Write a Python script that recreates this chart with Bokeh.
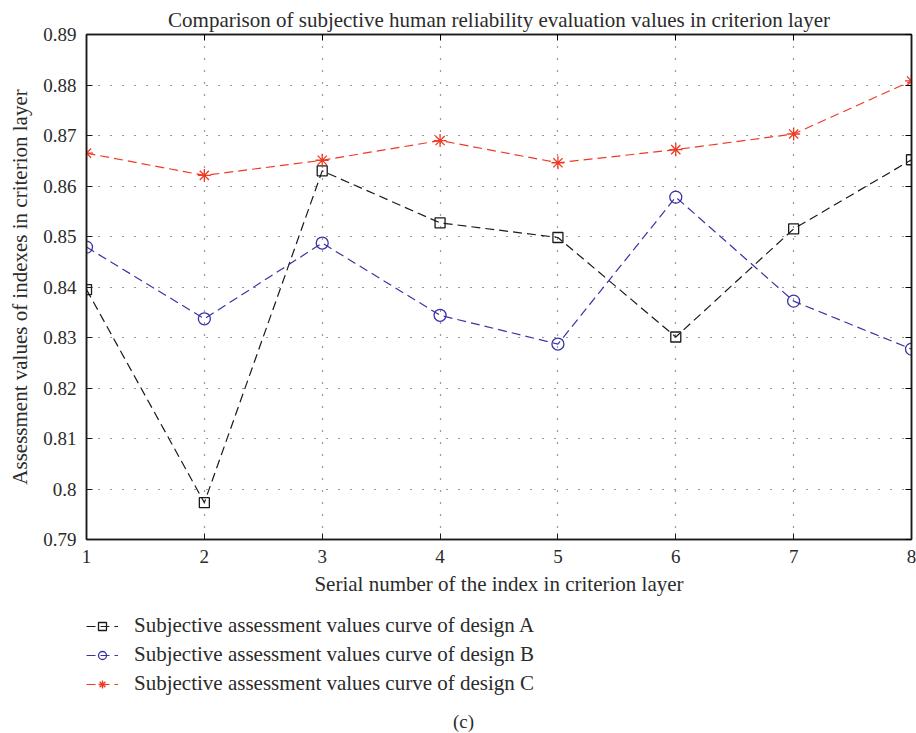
from bokeh.plotting import figure
from bokeh.layouts import column
from bokeh.models import (FixedTicker, LinearAxis, Legend, LegendItem, Label, Range1d,
                          CustomJSTickFormatter)
from bokeh.embed import file_html
from bokeh.resources import INLINE

x_index = [1, 2, 3, 4, 5, 6, 7, 8]
design_a = [0.8395, 0.7973, 0.8630, 0.8527, 0.8498, 0.8301, 0.8515, 0.8652]
design_b = [0.8479, 0.8337, 0.8487, 0.8344, 0.8287, 0.8578, 0.8372, 0.8277]
design_c = [0.8665, 0.8621, 0.8651, 0.8690, 0.8646, 0.8672, 0.8703, 0.8808]
y_ticks = [0.79, 0.80, 0.81, 0.82, 0.83, 0.84, 0.85, 0.86, 0.87, 0.88, 0.89]
y_tick_labels = ["0.79", "0.8", "0.81", "0.82", "0.83", "0.84", "0.85", "0.86", "0.87", "0.88", "0.89"]
x_ticks = [1, 2, 3, 4, 5, 6, 7, 8]

title_text = "Comparison of subjective human reliability evaluation values in criterion layer"
x_label = "Serial number of the index in criterion layer"
y_label = "Assessment values of indexes in criterion layer"
legend_labels = ["Subjective assessment values curve of design A",
                 "Subjective assessment values curve of design B",
                 "Subjective assessment values curve of design C"]
caption = "(c)"

FONT = "Liberation Serif"
TXT = "#2b2b2b"
BLACK = "#1a1a1a"
BLUE = "#3a34a6"
RED = "#ee3a24"
DASH = "9 5"

p = figure(width=916, height=600, output_backend="svg", toolbar_location=None,
           x_range=Range1d(1, 8), y_range=Range1d(0.79, 0.89),
           min_border_left=86, min_border_right=5, min_border_top=34, min_border_bottom=61)

p.title.text = title_text
p.title.align = "center"
p.title.text_font = FONT
p.title.text_font_size = "21px"
p.title.text_font_style = "normal"
p.title.text_color = TXT
p.title.standoff = 6

p.outline_line_color = BLACK
p.outline_line_width = 1.5
p.outline_line_alpha = 1

for ax in (p.xaxis[0], p.yaxis[0]):
    ax.major_tick_in = 6
    ax.major_tick_out = 0
    ax.minor_tick_line_color = None
    ax.axis_line_color = BLACK
    ax.axis_line_width = 1.5
    ax.major_tick_line_color = BLACK
    ax.major_label_text_font = FONT
    ax.major_label_text_font_size = "19px"
    ax.major_label_text_color = TXT
    ax.axis_label_text_font = FONT
    ax.axis_label_text_font_size = "21px"
    ax.axis_label_text_font_style = "normal"
    ax.axis_label_text_color = TXT
    ax.major_label_standoff = 10

p.xaxis[0].ticker = FixedTicker(ticks=x_ticks)
p.yaxis[0].ticker = FixedTicker(ticks=y_ticks)
p.yaxis[0].major_label_overrides = {t: s for t, s in zip(y_ticks, y_tick_labels)}
p.xaxis[0].axis_label = x_label
p.yaxis[0].axis_label = y_label
p.xaxis[0].axis_label_standoff = 6
p.yaxis[0].axis_label_standoff = 8

for loc, tk in (("right", y_ticks), ("above", x_ticks)):
    ax = LinearAxis(ticker=FixedTicker(ticks=tk), major_tick_in=6, major_tick_out=0,
                    minor_tick_line_color=None, axis_line_color=BLACK, axis_line_width=1.5,
                    formatter=CustomJSTickFormatter(code="return ''"),
                    major_label_standoff=0)
    p.add_layout(ax, loc)

p.xgrid.ticker = FixedTicker(ticks=x_ticks)
p.ygrid.ticker = FixedTicker(ticks=y_ticks)
for g in (p.xgrid[0], p.ygrid[0]):
    g.grid_line_color = "#333333"
    g.grid_line_dash = "1 11"
    g.grid_line_width = 1.2


def draw(fig, msize=1.0):
    la = fig.line(x_index, design_a, line_color=BLACK, line_dash=DASH, line_width=1.2)
    ma = fig.scatter(x_index, design_a, marker="square", size=10 * msize, line_color=BLACK,
                     fill_color=None, line_width=1.3)
    lb = fig.line(x_index, design_b, line_color=BLUE, line_dash=DASH, line_width=1.2)
    mb = fig.scatter(x_index, design_b, marker="circle", size=12 * msize, line_color=BLUE,
                     fill_color=None, line_width=1.3)
    lc = fig.line(x_index, design_c, line_color=RED, line_dash=DASH, line_width=1.2)
    mc = fig.scatter(x_index, design_c, marker="asterisk", size=13 * msize, line_color=RED,
                     line_width=1.3)
    return [(la, ma), (lb, mb), (lc, mc)]


draw(p)

# Lower panel holding the legend and caption (same series, drawn off-range)
q = figure(width=916, height=133, output_backend="svg", toolbar_location=None,
           x_range=Range1d(100, 101), y_range=Range1d(100, 101),
           x_axis_type=None, y_axis_type=None,
           min_border_left=0, min_border_right=0, min_border_top=0, min_border_bottom=0)
q.outline_line_color = None
q.xgrid.visible = False
q.ygrid.visible = False
pairs = draw(q, 0.85)

legend = Legend(items=[LegendItem(label=lab, renderers=list(rs))
                       for lab, rs in zip(legend_labels, pairs)],
                location=(0, 37), orientation="vertical",
                background_fill_alpha=0, border_line_color=None,
                padding=0, margin=0, spacing=4, glyph_width=32, glyph_height=20,
                label_height=20, label_standoff=16,
                label_text_font=FONT, label_text_font_size="21px", label_text_color=TXT)
q.add_layout(legend, "center")

q.add_layout(Label(x=377, y=12, x_units="screen", y_units="screen", text=caption,
                   text_font=FONT, text_font_size="19px", text_color=TXT,
                   text_align="center", text_baseline="middle"))

layout = column(p, q, spacing=0)
open("out.html", "w").write(file_html(layout, INLINE))
